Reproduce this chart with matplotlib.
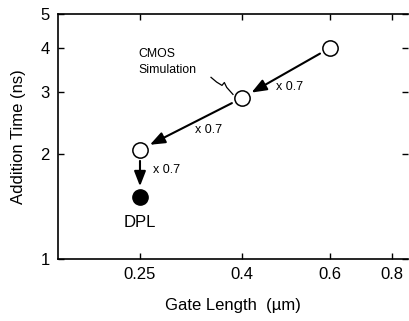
#! plot.py
# Addition time vs gate length, CMOS scaling and DPL

import matplotlib
matplotlib.use("Agg")
from matplotlib import pyplot as plt
from matplotlib.ticker import FixedLocator, NullLocator, FixedFormatter

# data
cmos_gate = [0.6, 0.4, 0.25]
cmos_time = [4.0, 2.88, 2.05]
dpl_gate = [0.25]
dpl_time = [1.5]
scale_labels = ["x 0.7", "x 0.7", "x 0.7"]

x_ticks = [0.25, 0.4, 0.6, 0.8]
x_ticklabels = ["0.25", "0.4", "0.6", "0.8"]
y_ticks = [1, 2, 3, 4, 5]
y_ticklabels = ["1", "2", "3", "4", "5"]

plt.rcParams['font.family'] = ['Liberation Sans', 'DejaVu Sans']

fig = plt.figure(figsize=(4.09, 3.21), dpi=100)
ax = fig.add_axes([0.142, 0.193, 0.856, 0.763])
ax.set_xscale("log")
ax.set_yscale("log")
ax.set_xlim(0.1713, 0.862)
ax.set_ylim(1, 5)

# circles
ax.plot(cmos_gate, cmos_time, linestyle="none", marker="o", markersize=11,
        markerfacecolor="white", markeredgecolor="black", markeredgewidth=1.1, zorder=3)
ax.plot(dpl_gate, dpl_time, linestyle="none", marker="o", markersize=11,
        color="black", zorder=3)

# arrows between points
arrow_props = dict(arrowstyle="-|>,head_length=0.9,head_width=0.35", color="black",
                   lw=1.5, shrinkA=8, shrinkB=8)
for i in range(len(cmos_gate) - 1):
    ax.annotate("", xy=(cmos_gate[i + 1], cmos_time[i + 1]),
                xytext=(cmos_gate[i], cmos_time[i]), arrowprops=arrow_props)
ax.annotate("", xy=(dpl_gate[0], dpl_time[0]), xytext=(cmos_gate[2], cmos_time[2]),
            arrowprops=arrow_props)

# x 0.7 labels
ax.text(0.468, 3.09, scale_labels[0], fontsize=9, ha="left", va="center")
ax.text(0.322, 2.34, scale_labels[1], fontsize=9, ha="left", va="center")
ax.text(0.265, 1.80, scale_labels[2], fontsize=9, ha="left", va="center")

ax.text(0.25, 1.27, "DPL", fontsize=12, ha="center", va="center")

# CMOS simulation label with squiggly leader
ax.text(0.248, 3.65, "CMOS\nSimulation", fontsize=8.8, ha="left", va="center",
        linespacing=1.35)
sq_x = [0.347, 0.356, 0.365, 0.369, 0.373, 0.384]
sq_y = [3.30, 3.20, 3.13, 3.19, 3.09, 2.95]
ax.plot(sq_x, sq_y, color="black", lw=0.9)

# ticks
ax.xaxis.set_major_locator(FixedLocator(x_ticks))
ax.xaxis.set_major_formatter(FixedFormatter(x_ticklabels))
ax.xaxis.set_minor_locator(NullLocator())
ax.yaxis.set_major_locator(FixedLocator(y_ticks))
ax.yaxis.set_major_formatter(FixedFormatter(y_ticklabels))
ax.yaxis.set_minor_locator(NullLocator())
ax.tick_params(direction="in", top=True, right=True, length=4, width=1,
               labelsize=12, pad=6)

for side in ["left", "bottom", "top"]:
    ax.spines[side].set_linewidth(1.2)
ax.spines["right"].set_visible(False)

ax.set_xlabel("Gate Length  (\u00b5m)", fontsize=12, labelpad=11)
ax.set_ylabel("Addition Time (ns)", fontsize=12, labelpad=10)

fig.savefig("out.png", dpi=100)
